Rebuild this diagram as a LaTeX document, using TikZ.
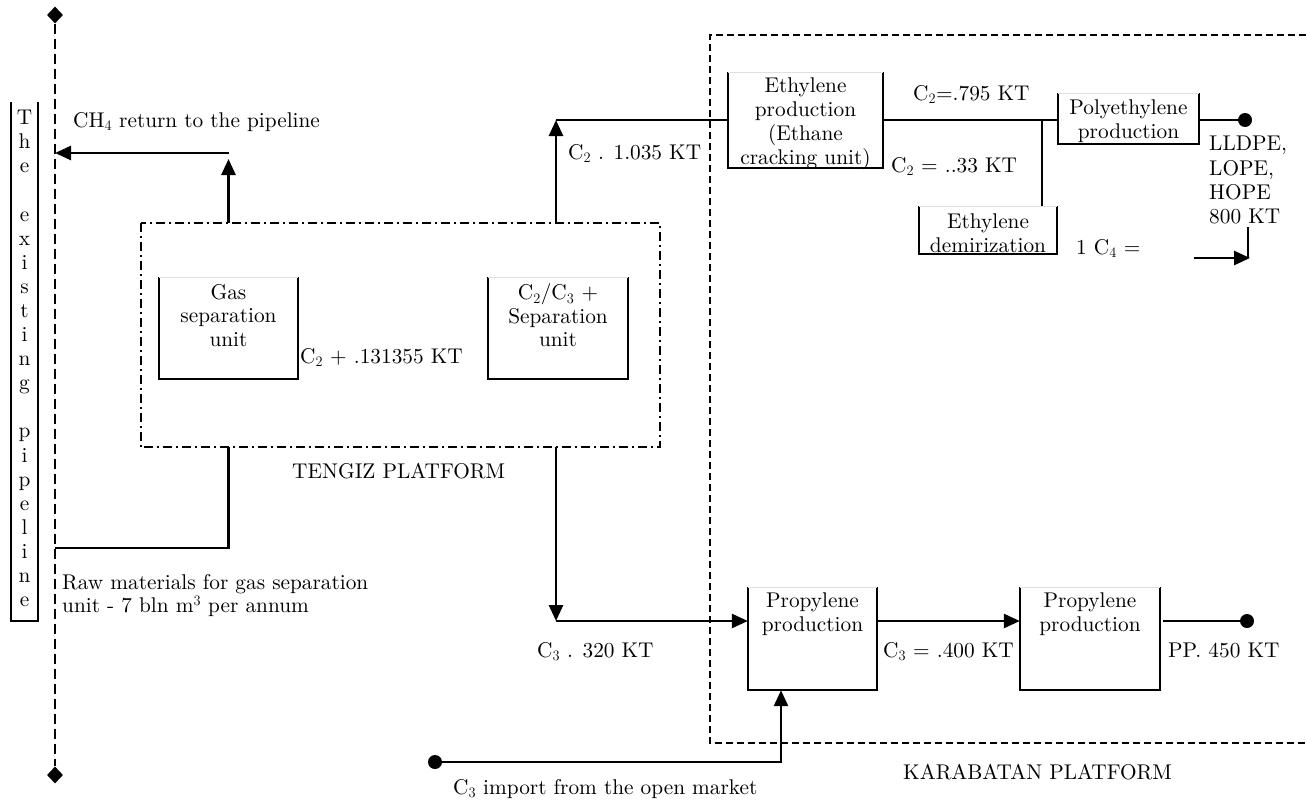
\documentclass[tikz,border=0pt]{standalone}
\usepackage{fontspec}
\setmainfont{lmroman10-regular.otf}
\usetikzlibrary{arrows.meta,shapes.geometric,calc}
\newcommand\myfs{\fontsize{21.3}{23.5}\selectfont}
\tikzset{
  flow/.style={line width=2.7pt,-{Triangle[length=16pt,width=14pt]}},
  pipe/.style={line width=2.7pt},
  boxside/.style={line width=1.9pt},
  boxtop/.style={line width=0.6pt,draw=black!12},
  unit/.style={inner sep=0pt,draw=none},
  btext/.style={inner sep=0pt,anchor=north,align=center,font=\myfs},
  lbl/.style={inner sep=0pt,anchor=base west,font=\myfs},
  dot/.style={circle,fill=black,inner sep=0pt,minimum size=14pt},
  pdia/.style={diamond,fill=black,inner sep=0pt,minimum width=16pt,minimum height=17pt},
  pipedash/.style={line width=2.6pt,dash pattern=on 10pt off 5pt},
  kardash/.style={line width=1.9pt,dash pattern=on 7pt off 4pt},
  tendash/.style={line width=1.9pt,dash pattern=on 9pt off 4pt on 2pt off 4pt},
}
\begin{document}
\begin{tikzpicture}[x=1pt,y=-1pt]
\useasboundingbox (0,0) rectangle (1306,803);
\fill[white] (0,0) rectangle (1306,803);

% pipeline
\node[pdia] (ptop) at (55,15) {};
\node[pdia] (pbot) at (55,775) {};
\draw[pipedash] (ptop.south) -- (pbot.north);
\node[unit,minimum width=27pt,minimum height=519pt] (pipebox) at (24.5,361.5) {};
\draw[boxside] (pipebox.north west) -- (pipebox.south west) -- (pipebox.south east) -- (pipebox.north east);
\node[btext,font=\fontsize{21.3}{24.1}\selectfont] (pipetxt) at (24.5,110) {T\\h\\e\\[24.1pt] e\\x\\i\\s\\t\\i\\n\\g\\[24.1pt] p\\i\\p\\e\\l\\i\\n\\e};

% platforms
\node[unit,minimum width=519pt,minimum height=224pt] (tengiz) at (400.5,335) {};
\draw[tendash] (tengiz.north west) rectangle (tengiz.south east);
\node[lbl] (tengiztxt) at (292,478) {TENGIZ PLATFORM};
\coordinate (karTL) at (710,35);
\coordinate (karBL) at (710,743);
\draw[kardash] (1306,35) -- (karTL) -- (karBL) -- (1306,743);
\node[lbl] (kartxt) at (903,779) {KARABATAN PLATFORM};

% unit boxes
\node[unit,minimum width=139pt,minimum height=102pt] (gas) at (228.5,328) {};
\node[unit,minimum width=140pt,minimum height=102pt] (sep) at (558,328) {};
\node[unit,minimum width=155pt,minimum height=96pt] (eth) at (805.5,120) {};
\node[unit,minimum width=141pt,minimum height=51pt] (poly) at (1128.5,118.5) {};
\node[unit,minimum width=138pt,minimum height=48pt] (dem) at (988,230) {};
\node[unit,minimum width=129pt,minimum height=103pt] (prop1) at (812.5,638.5) {};
\node[unit,minimum width=140pt,minimum height=103pt] (prop2) at (1090,638.5) {};
\foreach \b in {gas,sep,eth,poly,dem,prop1,prop2}{
  \draw[boxside] (\b.north west) -- (\b.south west) -- (\b.south east) -- (\b.north east);
  \draw[boxtop] (\b.north west) -- (\b.north east);
}
\node[btext] (gastxt) at ($(gas.north)+(0,7)$) {Gas\\separation\\unit};
\node[btext] (septxt) at ($(sep.north)+(0,7)$) {C$_2$/C$_3$ +\\Separation\\unit};
\node[btext,font=\fontsize{21.3}{24}\selectfont] (ethtxt) at ($(eth.north)+(0,6)$) {Ethylene\\production\\(Ethane\\cracking unit)};
\node[btext] (polytxt) at ($(poly.north)+(0,7)$) {Polyethylene\\production};
\node[btext] (demtxt) at ($(dem.north)+(0,8)$) {Ethylene\\demirization};
\node[btext] (p1txt) at ($(prop1.north)+(0,6)$) {Propylene\\production};
\node[btext] (p2txt) at ($(prop2.north)+(0,6)$) {Propylene\\production};

% coordinates
\coordinate (ch4c) at (228.5,153);
\coordinate (c2c) at (556,120);
\coordinate (c3c) at (556,621);
\coordinate (rawin) at (55,548);
\coordinate (junc) at (1042,120);
\coordinate (impc) at (781,762);
\coordinate (c4s) at (1194,258);
\coordinate (c4e) at (1250,258);
\coordinate (c4t) at (1248,227);
\node[dot] (pedot) at (1245,120) {};
\node[dot] (ppdot) at (1247,621) {};
\node[dot] (impdot) at (435,762) {};

% connectors
\draw[flow,shorten >=6pt] (gas.north |- tengiz.north) -- (ch4c);
\draw[flow] (ch4c) -- (ch4c -| ptop);
\draw[pipe] (rawin) -| (gas.south |- tengiz.south);
\draw[flow] (c2c |- tengiz.north) -- (c2c);
\draw[pipe] (c2c) -- (c2c -| eth.west);
\draw[flow] (c3c |- tengiz.south) -- (c3c);
\draw[flow] (c3c) -- (c3c -| prop1.west);
\draw[flow] (c3c -| prop1.east) -- (c3c -| prop2.west);
\draw[pipe] ($(c3c -| prop2.east)+(3,0)$) -- (ppdot);
\draw[flow] (impdot) -- (impc) -- (impc |- prop1.south);
\draw[pipe] (c2c -| eth.east) -- (c2c -| poly.west);
\draw[pipe] (junc) -- (junc |- dem.north);
\draw[pipe] (c2c -| poly.east) -- (pedot);
\draw[flow] (c4s) -- (c4e);
\draw[pipe] (c4t) -- (c4t |- c4e);

% labels
\node[lbl] (ch4lbl) at (73,127) {CH$_4$ return to the pipeline};
\node[lbl] (c2plus) at (300,363) {C$_2$ + .131355 KT};
\node[lbl] (c2lbl) at (568,159) {C$_2$ . 1.035 KT};
\node[lbl,align=left,anchor=north west] (rawlbl) at (62,574) {Raw materials for gas separation\\unit - 7 bln m$^3$ per annum};
\node[lbl] (c3lbl) at (537,657) {C$_3$ . 320 KT};
\node[lbl] (c2a) at (913,100) {C$_2$=.795 KT};
\node[lbl] (c2b) at (891,172) {C$_2$ = ..33 KT};
\node[lbl,align=left,anchor=north west,font=\fontsize{21.3}{24.3}\selectfont] (pelbl) at (1209,136) {LLDPE,\\LOPE,\\HOPE\\800 KT};
\node[lbl] (c4lbl) at (1076,254) {1 C$_4$ =};
\node[lbl] (c3b) at (883,657) {C$_3$ = .400 KT};
\node[lbl] (pplbl) at (1168,657) {PP. 450 KT};
\node[lbl] (implbl) at (453,794) {C$_3$ import from the open market};
\end{tikzpicture}
\end{document}
